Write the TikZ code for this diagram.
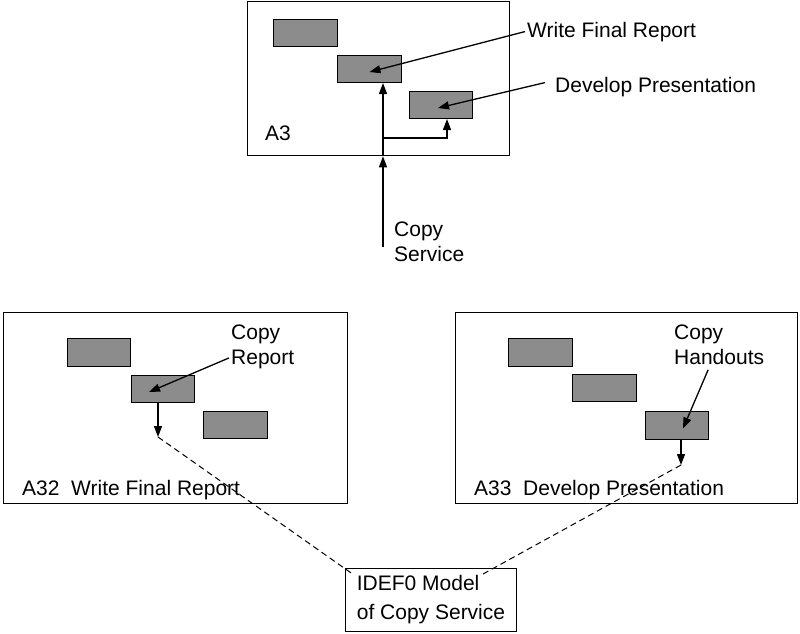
\documentclass[tikz,border=0pt]{standalone}
\usepackage{fontspec}
\setmainfont{Liberation Sans}
\usetikzlibrary{arrows.meta}
\tikzset{
  frame/.style={draw, line width=1.3pt, inner sep=0, anchor=north west},
  act/.style={draw, line width=1pt, fill=black!45, inner sep=0, anchor=north west},
  lbl/.style={inner sep=0, font=\fontsize{21}{25}\selectfont},
  arr/.style={line width=1.3pt, -{Triangle[length=11pt,width=8pt]}},
  dashline/.style={line width=1pt, dash pattern=on 6pt off 4pt}
}
\begin{document}
\begin{tikzpicture}[x=1pt,y=-1pt]
\useasboundingbox (0,0) rectangle (800,633);
% top frame A3
\node[frame, minimum width=262, minimum height=154] (A3) at (247,1) {};
\node[act, minimum width=64, minimum height=27] (b1) at (273,19) {};
\node[act, minimum width=64, minimum height=27] (b2) at (337,55) {};
\node[act, minimum width=63, minimum height=27] (b3) at (409,91) {};
\node[lbl, anchor=base west] (a3) at (265,140) {A3};
\node[lbl, anchor=base west] (wfr) at (527,37) {Write Final Report};
\node[lbl, anchor=base west] (dp) at (555,92) {Develop Presentation};
\node[lbl, anchor=north west, align=left] (cs) at (394,222) {Copy\\Service};
\coordinate (csb) at (383,247);
\coordinate (br) at (383,138);
\coordinate (bru) at (447,138);
\draw[arr] (csb) -- (A3.south -| csb);
\draw[arr] (A3.south -| csb) -- (b2.south -| csb);
\draw[arr] (br) -- (bru) -- (b3.south -| bru);
\draw[arr] ([xshift=-2pt]wfr.west) -- ([shift={(0,3)}]b2.center);
\draw[arr] ([shift={(-10,-4)}]dp.west) -- ([shift={(-3,3)}]b3.center);
% A32 frame
\node[frame, minimum width=344, minimum height=191] (A32) at (3,312) {};
\node[act, minimum width=63, minimum height=28] (c1) at (67,338) {};
\node[act, minimum width=63, minimum height=27] (c2) at (131,375) {};
\node[act, minimum width=64, minimum height=27] (c3) at (203,411) {};
\node[lbl, anchor=base west] (a32) at (22,495) {A32\ \ Write Final Report};
\node[lbl, anchor=north west, align=left] (cr) at (231,324.5) {Copy\\Report};
\coordinate (t32) at (158,437);
\draw[arr] (c2.south -| t32) -- (t32);
\draw[arr] ([shift={(-2,-11)}]cr.south west) -- ([shift={(-14,3)}]c2.center);
% A33 frame
\node[frame, minimum width=342, minimum height=191] (A33) at (455,312) {};
\node[act, minimum width=64, minimum height=28] (h1) at (508,338) {};
\node[act, minimum width=64, minimum height=27] (h2) at (572,374) {};
\node[act, minimum width=63, minimum height=28] (h3) at (645,411) {};
\node[lbl, anchor=base west] (a33) at (474,495) {A33\ \ Develop Presentation};
\node[lbl, anchor=north west, align=left] (ch) at (674,324.5) {Copy\\Handouts};
\coordinate (t33) at (681,465);
\draw[arr] (h3.south -| t33) -- (t33);
\draw[arr] ([shift={(-11,5)}]ch.south) -- ([shift={(6,3)}]h3.center);
% IDEF0 box
\node[draw, line width=1pt, anchor=north west, minimum width=171, minimum height=63, inner sep=0, align=left, font=\fontsize{21}{29}\selectfont] (idef) at (345,568) {IDEF0 Model\\of Copy Service};
\draw[dashline] (t32) -- ([shift={(9,7)}]idef.north west);
\draw[dashline] (t33) -- ([shift={(-34,6)}]idef.north east);
\end{tikzpicture}
\end{document}
